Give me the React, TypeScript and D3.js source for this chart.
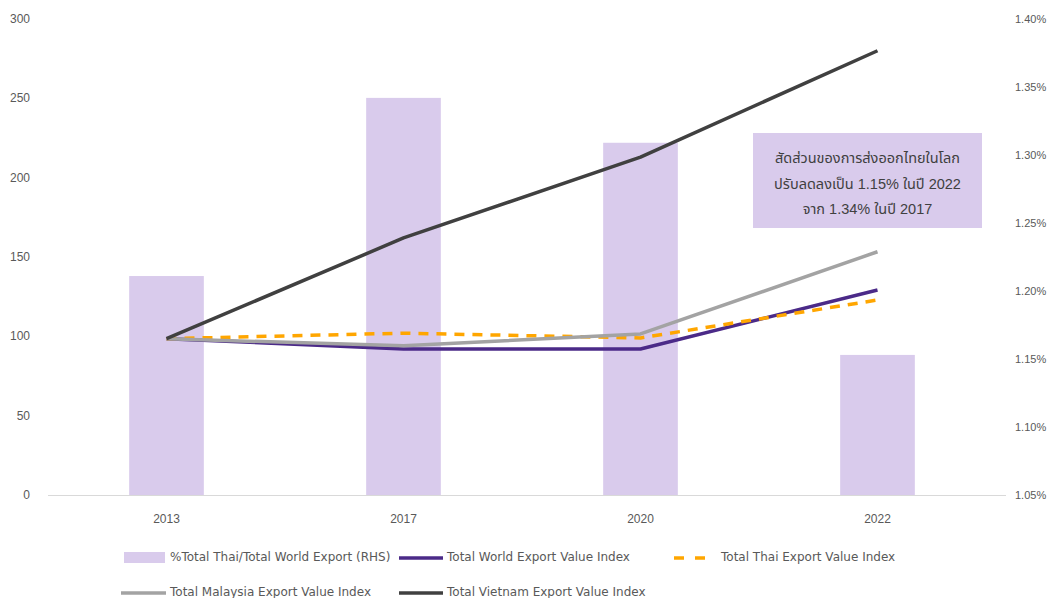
import React from "react";
import * as d3 from "d3";

const years = ["2013", "2017", "2020", "2022"];
const thaiShare = [1.211, 1.342, 1.309, 1.153]; // % (RHS)
const worldIndex = [98.5, 92, 92, 129.2];
const thaiIndex = [98.5, 102, 99, 122.9];
const malaysiaIndex = [98.5, 94, 101.5, 153.3];
const vietnamIndex = [98.5, 162, 213, 280];
const leftTicks = [0, 50, 100, 150, 200, 250, 300];
const rightTicks = [1.05, 1.1, 1.15, 1.2, 1.25, 1.3, 1.35, 1.4];
const noteLines = [
  "สัดส่วนของการส่งออกไทยในโลก",
  "ปรับลดลงเป็น 1.15% ในปี 2022",
  "จาก 1.34% ในปี 2017",
];

const W = 1048;
const H = 598;
const left = 48;
const right = 996;
const top = 19;
const bottom = 495;

const font = "'Liberation Sans', 'Noto Sans', 'Noto Sans Thai', sans-serif";
const legendFont = "'DejaVu Sans', 'Liberation Sans', sans-serif";
const textColor = "#595959";
const barColor = "#D9CBEC";

export default function App() {
  const x = d3.scaleBand<string>().domain(years).range([left, right]).paddingInner(0.685).paddingOuter(0.3425);
  const xc = (y: string) => (x(y) as number) + x.bandwidth() / 2;
  const yL = d3.scaleLinear().domain([0, 300]).range([bottom, top]);
  const yR = d3.scaleLinear().domain([1.05, 1.4]).range([bottom, top]);
  const line = d3
    .line<number>()
    .x((_, i) => xc(years[i]))
    .y((d) => yL(d));

  const series = [
    { name: "Total World Export Value Index", data: worldIndex, color: "#4B2A88", dash: "" },
    { name: "Total Thai Export Value Index", data: thaiIndex, color: "#FFA600", dash: "10,8" },
    { name: "Total Malaysia Export Value Index", data: malaysiaIndex, color: "#A3A3A3", dash: "" },
    { name: "Total Vietnam Export Value Index", data: vietnamIndex, color: "#404040", dash: "" },
  ];

  return (
    <svg width={W} height={H} style={{ position: "absolute", left: 0, top: 0, background: "#fff" }}>
      <rect width={W} height={H} fill="#fff" />
      {/* bars */}
      {years.map((yr, i) => (
        <rect
          key={yr}
          x={x(yr)}
          width={x.bandwidth()}
          y={yR(thaiShare[i])}
          height={bottom - yR(thaiShare[i])}
          fill={barColor}
        />
      ))}
      {/* x axis line */}
      <line x1={left} x2={1006} y1={bottom + 0.5} y2={bottom + 0.5} stroke="#D9D9D9" strokeWidth={1} />
      {/* left ticks */}
      {leftTicks.map((t) => (
        <text key={t} x={30} y={yL(t) + 4} textAnchor="end" fontFamily={font} fontSize={12} fill={textColor}>
          {t}
        </text>
      ))}
      {/* right ticks */}
      {rightTicks.map((t) => (
        <text key={t} x={1015} y={yR(t) + 4} textAnchor="start" fontFamily={font} fontSize={11} fill={textColor}>
          {t.toFixed(2) + "%"}
        </text>
      ))}
      {/* x labels */}
      {years.map((yr) => (
        <text key={yr} x={xc(yr)} y={523} textAnchor="middle" fontFamily={font} fontSize={12} fill={textColor}>
          {yr}
        </text>
      ))}
      {/* lines */}
      {series.map((s) => (
        <path
          key={s.name}
          d={line(s.data) as string}
          fill="none"
          stroke={s.color}
          strokeWidth={3.5}
          strokeDasharray={s.dash || undefined}
          strokeLinejoin="round"
        />
      ))}
      {/* annotation */}
      <rect x={753} y={133} width={229} height={95} fill={barColor} />
      {noteLines.map((t, i) => (
        <text key={i} x={867.5} y={163 + i * 25.5} textAnchor="middle" fontFamily={font} fontSize={14.5} fill="#404040">
          {t}
        </text>
      ))}
      {/* legend */}
      <g fontFamily={legendFont} fontSize={12} fill={textColor}>
        <rect x={124} y={552} width={41} height={11} fill={barColor} />
        <text x={170} y={561}>%Total Thai/Total World Export (RHS)</text>
        <line x1={399} x2={443} y1={558} y2={558} stroke={series[0].color} strokeWidth={3.5} />
        <text x={447} y={561}>{series[0].name}</text>
        <line x1={674} x2={716} y1={558} y2={558} stroke={series[1].color} strokeWidth={3.5} strokeDasharray="10,11" />
        <text x={721} y={561}>{series[1].name}</text>
        <line x1={121} x2={166} y1={593} y2={593} stroke={series[2].color} strokeWidth={3.5} />
        <text x={170} y={596}>{series[2].name}</text>
        <line x1={399} x2={443} y1={593} y2={593} stroke={series[3].color} strokeWidth={3.5} />
        <text x={447} y={596}>{series[3].name}</text>
      </g>
    </svg>
  );
}
